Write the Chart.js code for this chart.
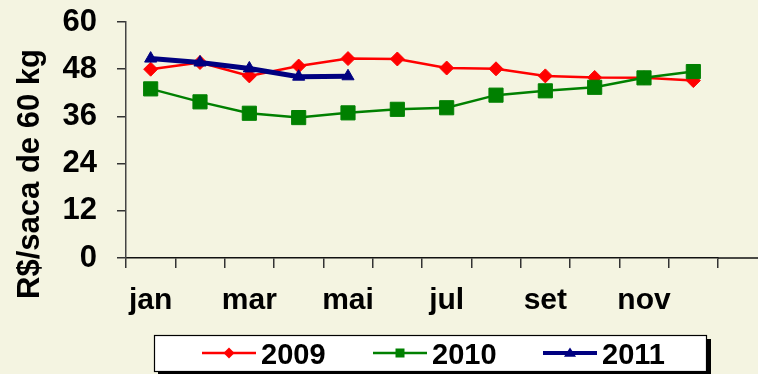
<!DOCTYPE html>
<html>
<head>
<meta charset="utf-8">
<script src="https://cdn.jsdelivr.net/npm/chart.js@4/dist/chart.umd.min.js"></script>
<style>
  html, body { margin: 0; padding: 0; background: #F4F4E1; overflow: hidden; }
  #wrap { width: 758px; height: 374px; }
</style>
</head>
<body>
<div id="wrap"><canvas id="precos" width="758" height="374"></canvas></div>
<script>
var meses = ['jan', 'fev', 'mar', 'abr', 'mai', 'jun', 'jul', 'ago', 'set', 'out', 'nov', 'dez'];
var preco2009 = [48.0, 49.7, 46.3, 48.8, 50.7, 50.6, 48.3, 48.1, 46.3, 45.9, 45.8, 45.1];
var preco2010 = [43.0, 39.7, 36.8, 35.7, 36.9, 37.8, 38.2, 41.4, 42.5, 43.4, 45.8, 47.4];
var preco2011 = [50.7, 49.7, 48.2, 46.1, 46.2];
var anos = ['2009', '2010', '2011'];
var tituloEixo = 'R$/saca de 60 kg';

var fonte = '"Liberation Sans", Arial, sans-serif';

// marker shapes for the legend box
function marcador(ctx, tipo, x, y, r) {
    ctx.beginPath();
    if (tipo === 'rectRot') {
        ctx.moveTo(x, y - r); ctx.lineTo(x + r, y); ctx.lineTo(x, y + r); ctx.lineTo(x - r, y);
    } else if (tipo === 'rect') {
        ctx.rect(x - r, y - r, 2 * r, 2 * r);
    } else {
        ctx.moveTo(x, y - r); ctx.lineTo(x + r * 1.1, y + r * 0.7); ctx.lineTo(x - r * 1.1, y + r * 0.7);
    }
    ctx.closePath();
    ctx.fill();
}

var extras = {
    id: 'extras',
    afterDraw: function (chart) {
        var ctx = chart.ctx;
        var area = chart.chartArea;
        var y0 = chart.scales.y.getPixelForValue(0);
        ctx.save();

        // x axis runs on to the right edge
        ctx.strokeStyle = '#111';
        ctx.lineWidth = 1.5;
        ctx.beginPath();
        ctx.moveTo(area.right, y0);
        ctx.lineTo(chart.width, y0);
        ctx.stroke();

        // rotated y title
        ctx.save();
        ctx.translate(30, 174);
        ctx.rotate(-Math.PI / 2);
        ctx.font = 'bold 31px ' + fonte;
        ctx.fillStyle = '#000';
        ctx.textAlign = 'center';
        ctx.textBaseline = 'middle';
        ctx.fillText(tituloEixo, 0, 0);
        ctx.restore();

        // legend box with shadow
        var bx = 154, by = 335, bw = 553, bh = 37;
        ctx.fillStyle = '#000';
        ctx.fillRect(bx + 4, by + 4, bw, bh);
        ctx.fillStyle = '#fff';
        ctx.fillRect(bx, by, bw, bh);
        ctx.strokeStyle = '#000';
        ctx.lineWidth = 1.2;
        ctx.strokeRect(bx + 0.5, by + 0.5, bw - 1, bh - 1);

        var ds = chart.data.datasets;
        var inicio = [202, 373, 543];
        var ly = 353;
        ctx.font = 'bold 29px ' + fonte;
        ctx.textAlign = 'left';
        ctx.textBaseline = 'alphabetic';
        for (var i = 0; i < ds.length; i++) {
            var lx = inicio[i];
            ctx.strokeStyle = ds[i].borderColor;
            ctx.lineWidth = i === 2 ? 4 : 2.5;
            ctx.beginPath();
            ctx.moveTo(lx, ly);
            ctx.lineTo(lx + 54, ly);
            ctx.stroke();
            ctx.fillStyle = ds[i].borderColor;
            marcador(ctx, ds[i].pointStyle, lx + 27, ly, i === 1 ? 4.5 : 5.5);
            ctx.fillStyle = '#000';
            ctx.fillText(ds[i].label, lx + 59, 364);
        }
        ctx.restore();
    }
};

var ctx = document.getElementById('precos').getContext('2d');
new Chart(ctx, {
    type: 'line',
    data: {
        labels: meses,
        datasets: [
            {
                label: anos[0],
                data: preco2009,
                borderColor: '#FF0000',
                backgroundColor: '#FF0000',
                borderWidth: 2.5,
                pointStyle: 'rectRot',
                pointRadius: 7,
                pointBorderWidth: 1,
                order: 2
            },
            {
                label: anos[1],
                data: preco2010,
                borderColor: '#008000',
                backgroundColor: '#008000',
                borderWidth: 2.5,
                pointStyle: 'rect',
                pointRadius: 10,
                pointBorderWidth: 1,
                order: 1
            },
            {
                label: anos[2],
                data: preco2011,
                borderColor: '#000080',
                backgroundColor: '#000080',
                borderWidth: 5,
                pointStyle: 'triangle',
                pointRadius: 7,
                pointBorderWidth: 1,
                order: 0
            }
        ]
    },
    options: {
        responsive: false,
        animation: false,
        devicePixelRatio: 1,
        layout: { padding: { left: 0, top: 22, right: 40, bottom: 0 } },
        plugins: {
            legend: { display: false },
            tooltip: { enabled: false }
        },
        scales: {
            x: {
                offset: true,
                grid: { offset: true, drawOnChartArea: false, tickLength: 10, color: '#333', lineWidth: 1.5 },
                border: { color: '#111', width: 1.5 },
                ticks: {
                    autoSkip: false,
                    maxRotation: 0,
                    padding: 15,
                    color: '#000',
                    font: { family: fonte, size: 30, weight: 'bold' },
                    callback: function (v, i) { return i % 2 === 0 ? this.getLabelForValue(v) : ''; }
                },
                afterFit: function (s) { s.height = 116; s.paddingLeft = 0; s.paddingRight = 0; }
            },
            y: {
                min: 0,
                max: 60,
                grid: { drawOnChartArea: false, tickLength: 9, color: '#333', lineWidth: 1.5 },
                border: { color: '#444', width: 1.5 },
                ticks: {
                    stepSize: 12,
                    padding: 20,
                    color: '#000',
                    font: { family: fonte, size: 31, weight: 'bold' }
                },
                afterFit: function (s) { s.width = 126; s.paddingTop = 0; s.paddingBottom = 0; }
            }
        }
    },
    plugins: [extras]
});
</script>
</body>
</html>
